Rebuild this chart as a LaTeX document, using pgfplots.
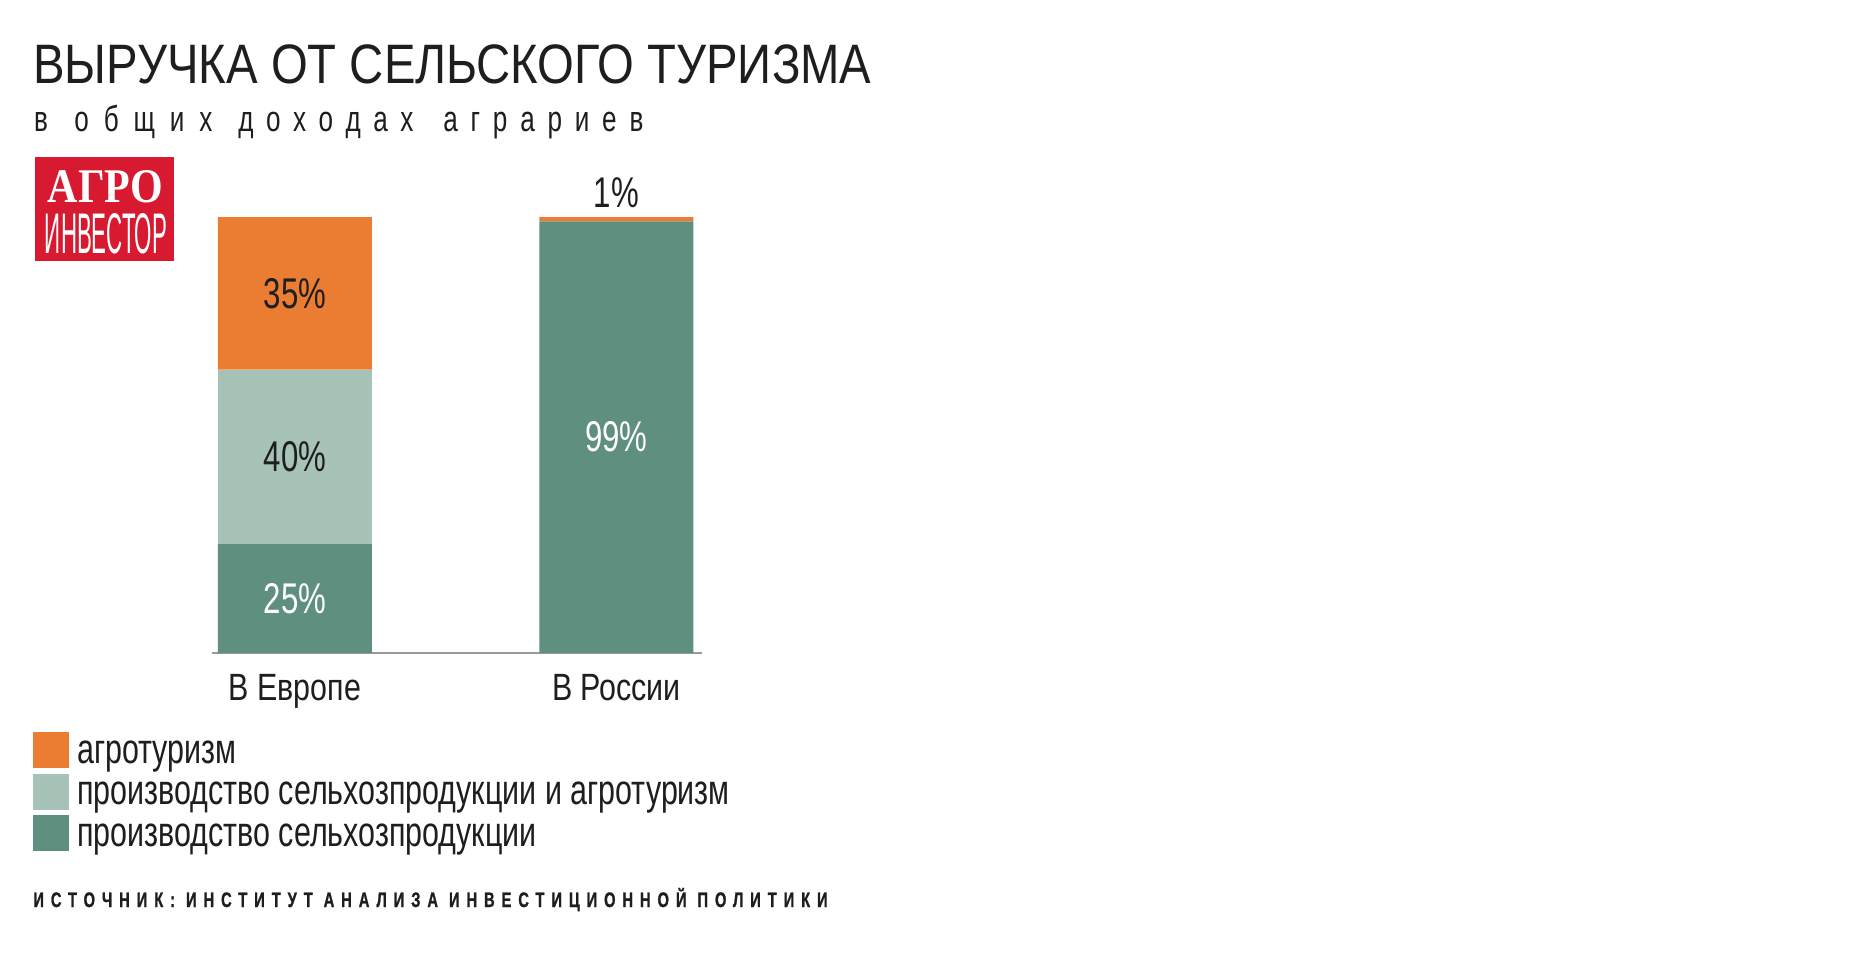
\documentclass[border=0pt]{standalone}
\usepackage{fontspec}
\setmainfont{Liberation Sans}[FakeStretch=0.725]
\newfontfamily\catfont{Liberation Sans}[FakeStretch=0.8]
\newfontfamily\srcfont{Liberation Sans}[FakeStretch=0.7,FakeBold=1]
\newfontfamily\serifb{Liberation Serif}
\usepackage{graphicx}
\usepackage{pgfplots}
\pgfplotsset{compat=1.18}
\definecolor{agro}{HTML}{EB7D32}
\definecolor{mixed}{HTML}{A7C3B8}
\definecolor{prod}{HTML}{5F8F7E}
\definecolor{logored}{HTML}{D71A30}
\definecolor{ink}{HTML}{1E1E1E}
\newcommand\fs[1]{\fontsize{#1}{#1}\selectfont}
\pgfplotsset{sq legend/.style={legend image code/.code={\fill[##1,draw=none] (0pt,-1.85pt) rectangle (18pt,16.15pt);}}}
\begin{document}
\begin{tikzpicture}[x=1pt,y=1pt]
\fill[white] (0,0) rectangle (933,480);
\path[use as bounding box] (0,0) rectangle (933,480);
% title
\node[anchor=base west, inner sep=0, text=ink] at (16.5,438.3) {\resizebox{419pt}{19.4pt}{\fs{29}ВЫРУЧКА ОТ СЕЛЬСКОГО ТУРИЗМА}};
% subtitle (letter-spaced words)
\begin{scope}[every node/.style={anchor=base west, inner sep=0, text=ink, font=\fs{18}}]
\node at (16.8,414.2) {в};
\node at (37,414.2) {\makebox[69pt][s]{о\hfill б\hfill щ\hfill и\hfill х}};
\node at (119,414.2) {\makebox[87.5pt][s]{д\hfill о\hfill х\hfill о\hfill д\hfill а\hfill х}};
\node at (221.5,414.2) {\makebox[100pt][s]{а\hfill г\hfill р\hfill а\hfill р\hfill и\hfill е\hfill в}};
\end{scope}
% logo
\fill[logored] (17.5,349.5) rectangle (87,401.5);
\node[anchor=base, inner sep=0, text=white] at (52.75,378.5) {\resizebox{57.5pt}{16pt}{\serifb\bfseries АГРО}};
\node[anchor=base, inner sep=0, text=white] at (53,353.5) {\resizebox{61pt}{20pt}{ИНВЕСТОР}};
% source
\node[anchor=base west, inner sep=0, text=ink] at (16.5,26.5) {\srcfont\fs{10.5}\bfseries\addfontfeatures{LetterSpace=33}ИСТОЧНИК: ИНСТИТУТ АНАЛИЗА ИНВЕСТИЦИОННОЙ ПОЛИТИКИ};
\begin{axis}[
  at={(106pt,153.5pt)}, anchor=south west,
  scale only axis, width=245pt, height=218pt,
  xmin=-0.258, xmax=1.266, ymin=0, ymax=100,
  ybar stacked, bar width=0.479,
  hide y axis, axis x line*=bottom,
  x axis line style={draw=black!40, line width=0.75pt},
  xtick={0,1}, xticklabels={В Европе, В России},
  major tick length=0pt,
  xticklabel style={anchor=base, yshift=-23.75pt, font=\catfont\fs{19}, text=ink},
  clip=false,
  every axis plot post/.append style={sq legend},
  reverse legend,
  legend style={at={(rel axis cs:-0.3653,-0.1812)}, anchor=north west,
    draw=none, fill=none, inner sep=0pt, row sep=2.75pt,
    font=\fs{21}, text=ink, nodes={inner sep=0pt},
    /tikz/every odd column/.append style={column sep=4pt}},
  legend cell align=left,
]
\addplot[fill=prod, draw=none] coordinates {(0,25) (1,99)};
\addplot[fill=mixed, draw=none] coordinates {(0,40) (1,0)};
\addplot[fill=agro, draw=none] coordinates {(0,35) (1,1)};
\legend{\smash{производство сельхозпродукции}, \smash{производство сельхозпродукции и агротуризм}, \smash{агротуризм}}
\coordinate (e35) at (axis cs:0,82.5);
\coordinate (e40) at (axis cs:0,45);
\coordinate (e25) at (axis cs:0,12.5);
\coordinate (r99) at (axis cs:1,49.5);
\coordinate (r1) at (axis cs:1,105.5);
\end{axis}
\node[font=\fs{21.5}, text=ink] at (e35) {35\%};
\node[font=\fs{21.5}, text=ink] at (e40) {40\%};
\node[font=\fs{21.5}, text=white] at (e25) {25\%};
\node[font=\fs{21.5}, text=white] at (r99) {99\%};
\node[font=\fs{21.5}, text=ink] at (r1) {1\%};
\end{tikzpicture}
\end{document}
